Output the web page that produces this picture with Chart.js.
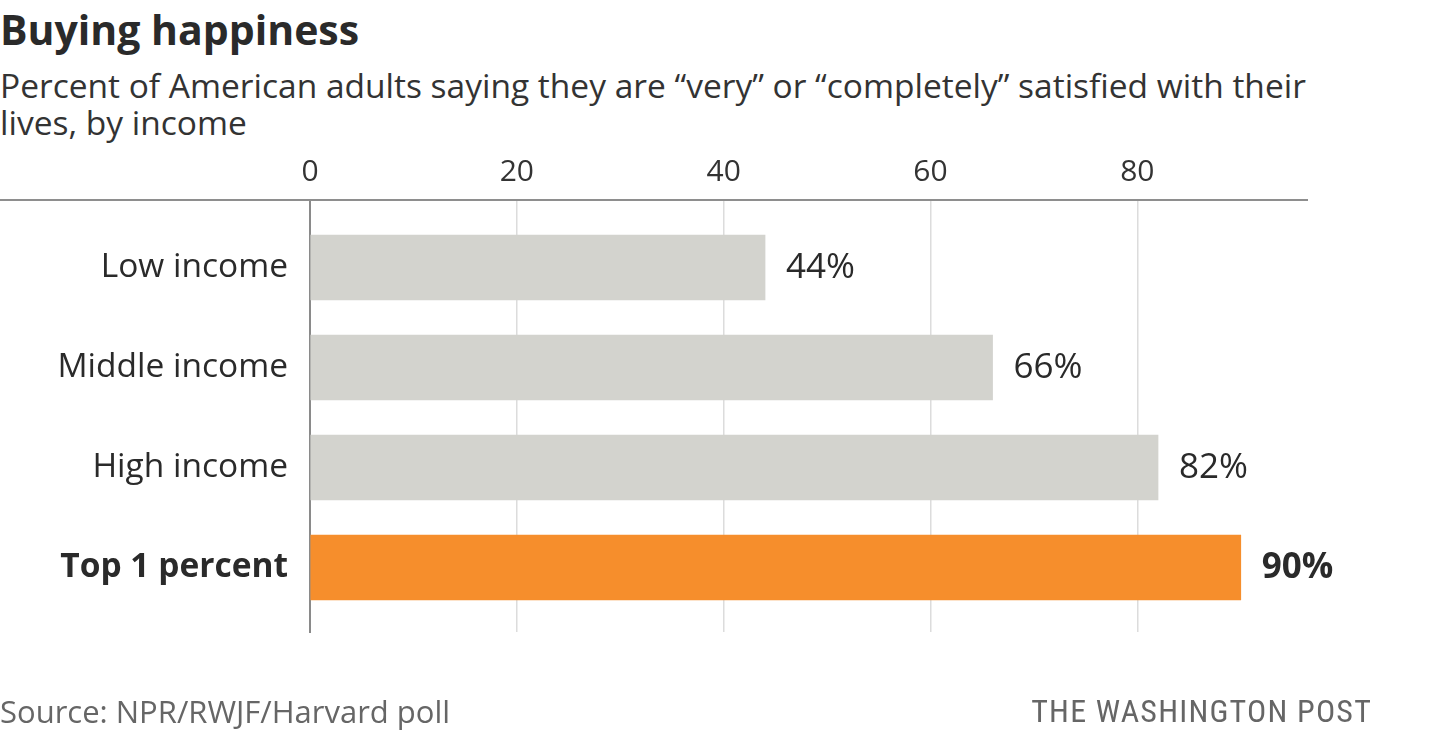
<!DOCTYPE html>
<html>
<head>
<meta charset="utf-8">
<script src="https://cdn.jsdelivr.net/npm/chart.js@4"></script>
<style>
  html, body { margin: 0; padding: 0; background: #fff; }
  body { width: 1440px; height: 740px; position: relative; overflow: hidden; font-family: "Open Sans", Roboto, sans-serif; color: #2a2a2a; }
  #title { position: absolute; left: 0; top: 1px; font-size: 41px; font-weight: 700; line-height: 56px; }
  #subtitle { position: absolute; left: 0; top: 67px; font-size: 33.5px; line-height: 37px; color: #333; white-space: nowrap; }
  #source { position: absolute; left: 0; top: 689px; font-size: 31px; line-height: 44px; color: #666; }
  #credit { position: absolute; right: 68px; top: 689px; font-size: 32px; line-height: 44px; color: #666; letter-spacing: 1.2px; font-family: "Roboto Condensed", "Liberation Sans Narrow", Roboto, sans-serif; font-stretch: condensed; }
  #chart { position: absolute; left: 0; top: 0; }
</style>
</head>
<body>
<div id="title">Buying happiness</div>
<div id="subtitle">Percent of American adults saying they are “very” or “completely” satisfied with their<br>lives, by income</div>
<canvas id="chart" width="1440" height="740"></canvas>
<div id="source">Source: NPR/RWJF/Harvard poll</div>
<div id="credit">THE WASHINGTON POST</div>
<script>
const categories = ["Low income", "Middle income", "High income", "Top 1 percent"];
const satisfied = [44, 66, 82, 90];
const xTicks = [0, 20, 40, 60, 80];
const highlight = 3;

const FONT = "'Open Sans', Roboto, sans-serif";
const GREY_BAR = "#d3d3ce";
const ORANGE = "#f68e2c";

// long rule along the top of the plot, running out to the left page edge
const topRule = {
  id: "topRule",
  beforeDatasetsDraw(chart) {
    const { ctx, chartArea } = chart;
    ctx.save();
    ctx.strokeStyle = "#8e8e8e";
    ctx.lineWidth = 2;
    ctx.beginPath();
    ctx.moveTo(0, chartArea.top);
    ctx.lineTo(chartArea.right, chartArea.top);
    ctx.stroke();
    ctx.restore();
  }
};

const valueLabels = {
  id: "valueLabels",
  afterDatasetsDraw(chart) {
    const { ctx } = chart;
    const meta = chart.getDatasetMeta(0);
    ctx.save();
    ctx.textBaseline = "middle";
    ctx.textAlign = "left";
    meta.data.forEach((bar, i) => {
      ctx.fillStyle = "#2a2a2a";
      ctx.font = (i === highlight ? "bold " : "") + "35px " + FONT;
      ctx.fillText(satisfied[i] + "%", bar.x + 21, bar.y + 1);
    });
    ctx.restore();
  }
};

new Chart(document.getElementById("chart"), {
  type: "bar",
  data: {
    datasets: [{
      data: satisfied.map((v, i) => ({ x: v, y: i })),
      backgroundColor: categories.map((c, i) => i === highlight ? ORANGE : GREY_BAR),
      barThickness: 65,
      borderWidth: 0
    }]
  },
  options: {
    indexAxis: "y",
    responsive: false,
    animation: false,
    devicePixelRatio: 1,
    layout: { padding: { top: 140, bottom: 108, left: 0, right: 132 } },
    plugins: { legend: { display: false }, tooltip: { enabled: false } },
    scales: {
      x: {
        type: "linear",
        position: "top",
        min: 0,
        max: 96.5,
        afterBuildTicks: s => { s.ticks = xTicks.map(v => ({ value: v })); },
        afterFit: s => { s.height = 60; },
        ticks: { padding: 13, color: "#333", font: { family: FONT, size: 30, lineHeight: 1 } },
        grid: { color: "#dcdcdc", lineWidth: 1.5, drawTicks: false },
        border: { display: false }
      },
      y: {
        type: "linear",
        reverse: true,
        offset: false,
        min: -0.675,
        max: 3.645,
        afterBuildTicks: s => { s.ticks = categories.map((c, i) => ({ value: i })); },
        afterFit: s => { s.width = 310; },
        ticks: {
          padding: 22,
          color: "#2a2a2a",
          callback: v => categories[v],
          font: ctx => ({ family: FONT, size: 33.5, weight: ctx.index === highlight ? "bold" : "normal" })
        },
        grid: { display: false, drawTicks: false },
        border: { display: true, color: "#8a8a8a", width: 2 }
      }
    }
  },
  plugins: [topRule, valueLabels]
});
</script>
</body>
</html>
